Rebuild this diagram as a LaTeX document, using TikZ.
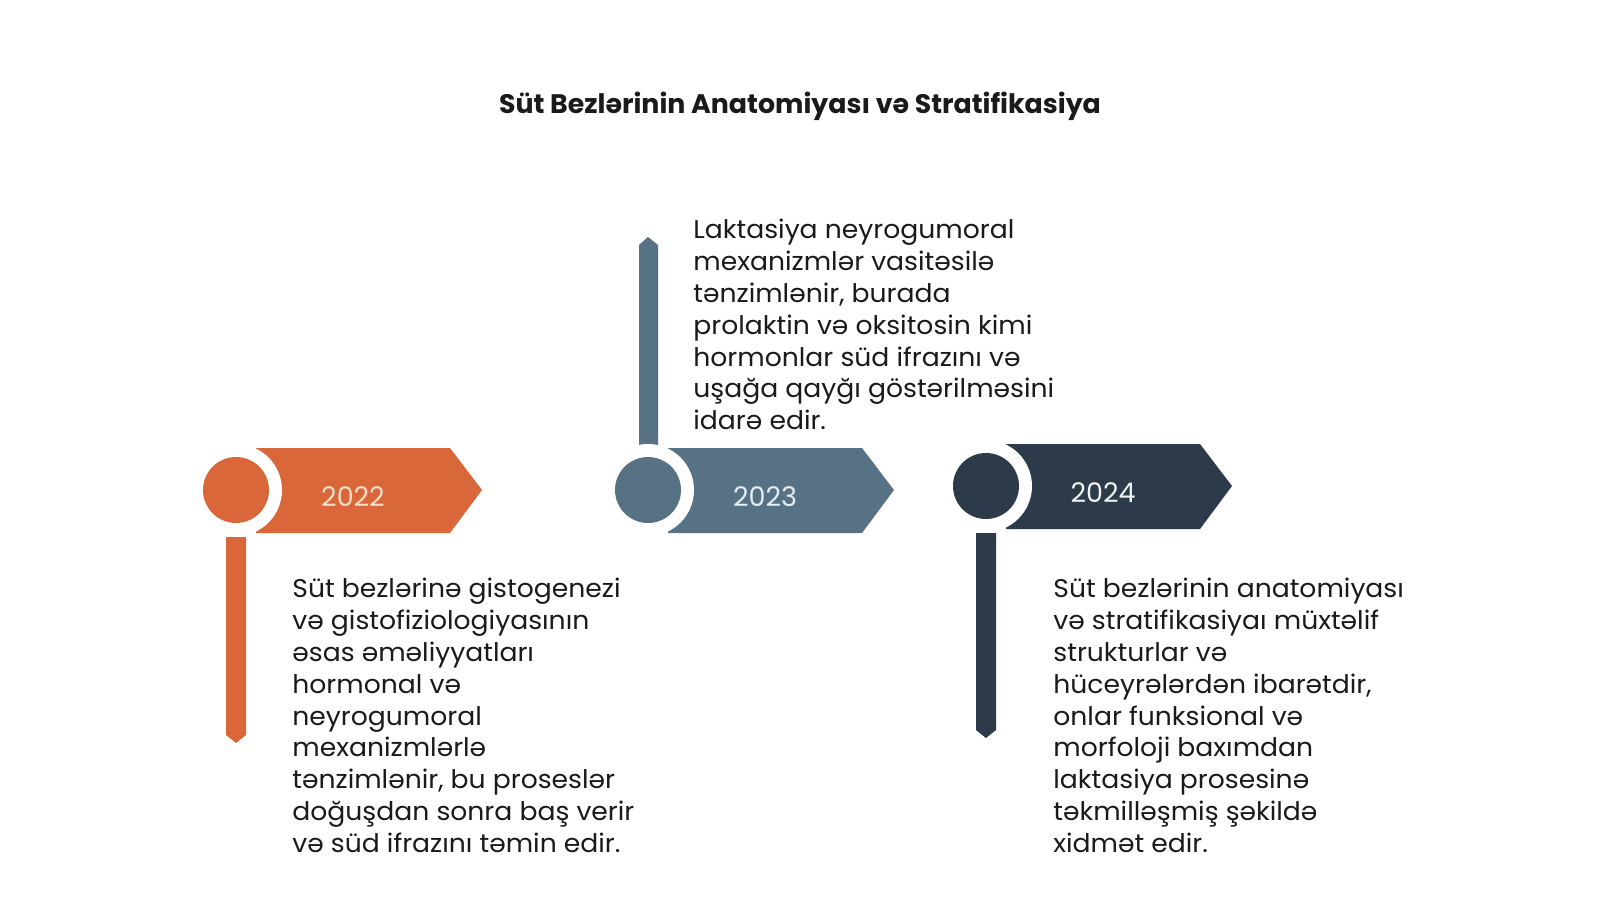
\documentclass[tikz,border=0pt]{standalone}
\usepackage{fontspec}
\setmainfont{Poppins}
\newfontfamily\bodyfont{Poppins}[FakeStretch=1.04]
\usepackage{tikz}
\usetikzlibrary{positioning}
\definecolor{orangecol}{HTML}{DA673A}
\definecolor{slatecol}{HTML}{577185}
\definecolor{navycol}{HTML}{2C3A4A}
\definecolor{orangetxt}{HTML}{F7DEC8}
\definecolor{slatetxt}{HTML}{E2EDF4}
\definecolor{navytxt}{HTML}{EEF2F5}
\definecolor{inkcol}{HTML}{1A1A1A}
\tikzset{
  yeartext/.style={font=\fontsize{13.5}{16}\selectfont, inner sep=0pt},
  bodytext/.style={font=\bodyfont\fontsize{12.8}{15.9}\selectfont, text=inkcol,
    align=left, inner sep=0pt, anchor=north west},
}

\begin{document}
\begin{tikzpicture}[x=0.5pt,y=-0.5pt]
\useasboundingbox (0,0) rectangle (1600,900);
\fill[white] (0,0) rectangle (1600,900);

% ---------------- Title ----------------
\node[font=\fontsize{13.4}{16}\selectfont\bfseries, text=inkcol] (title) at (800,106)
  {Süt Bezlərinin Anatomiyası və Stratifikasiya};

% ---------------- Stems ----------------
\fill[orangecol] (226,537) -- (246,537) -- (246,735) -- (236,743) -- (226,735) -- cycle;
\fill[slatecol] (639,445) -- (639,245) -- (648,237) -- (658,245) -- (658,445) -- cycle;
\fill[navycol] (976,533) -- (996,533) -- (996,730) -- (986,738) -- (976,730) -- cycle;

% ---------------- Year banners ----------------
\foreach \cx/\cy/\col/\yr/\ycol in {
  236/490/orangecol/2022/orangetxt,
  648/490/slatecol/2023/slatetxt,
  986/486/navycol/2024/navytxt}{
  \fill[\col] (\cx+20,\cy-42) -- (\cx+214,\cy-42) -- (\cx+246,\cy)
    -- (\cx+214,\cy+43) -- (\cx+20,\cy+43) -- cycle;
  \fill[white] (\cx,\cy) circle[radius=46];
  \fill[\col] (\cx,\cy) circle[radius=33];
  \node[yeartext, text=\ycol] (year\yr) at (\cx+117,\cy+7) {\yr};
}

% ---------------- Texts ----------------
\node[bodytext] (txt2022) at (292,578) {Süt bezlərinə gistogenezi\\
  və gistofiziologiyasının\\ əsas əməliyyatları\\ hormonal və\\
  neyrogumoral\\ mexanizmlərlə\\ tənzimlənir, bu proseslər\\
  doğuşdan sonra baş verir\\ və süd ifrazını təmin edir.};

\node[bodytext] (txt2023) at (693,219) {Laktasiya neyrogumoral\\
  mexanizmlər vasitəsilə\\ tənzimlənir, burada\\
  prolaktin və oksitosin kimi\\ hormonlar süd ifrazını və\\
  uşağa qayğı göstərilməsini\\ idarə edir.};

\node[bodytext] (txt2024) at (1053,578) {Süt bezlərinin anatomiyası\\
  və stratifikasiyaı müxtəlif\\ strukturlar və\\
  hüceyrələrdən ibarətdir,\\ onlar funksional və\\
  morfoloji baxımdan\\ laktasiya prosesinə\\
  təkmilləşmiş şəkildə\\ xidmət edir.};

\end{tikzpicture}
\end{document}
